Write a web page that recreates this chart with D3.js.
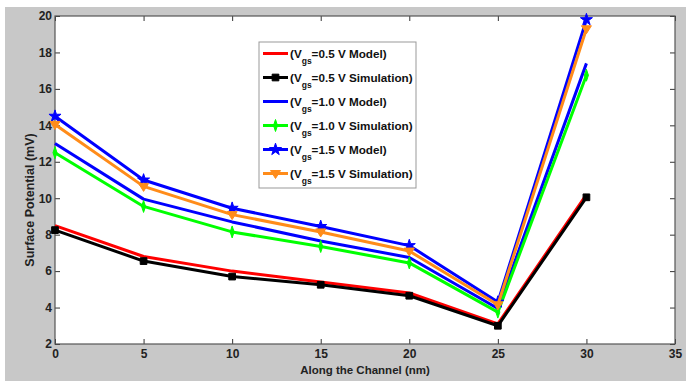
<!DOCTYPE html>
<html>
<head>
<meta charset="utf-8">
<script src="https://cdn.jsdelivr.net/npm/d3@7"></script>
<style>
  body { margin: 0; background: #fff; }
  svg { display: block; }
  .tick text { font-family: Arial, "Liberation Sans", sans-serif; font-weight: bold; font-size: 12px; fill: #222; }
  .axis-label { font-family: Arial, "Liberation Sans", sans-serif; font-weight: bold; fill: #222; }
  .legend text { font-family: Arial, "Liberation Sans", sans-serif; font-weight: bold; font-size: 11.7px; fill: #111; }
</style>
</head>
<body>
<div id="chart"></div>
<script>
// the data
var xValues = [0, 5, 10, 15, 20, 25, 30];
var vgs05Model = [8.5, 6.8, 6.0, 5.4, 4.8, 3.1, 10.2];
var vgs05Sim   = [8.25, 6.55, 5.7, 5.25, 4.65, 3.0, 10.05];
var vgs10Model = [13.0, 9.95, 8.7, 7.65, 6.75, 3.95, 17.4];
var vgs10Sim   = [12.5, 9.55, 8.15, 7.35, 6.45, 3.75, 16.75];
var vgs15Model = [14.5, 11.0, 9.45, 8.45, 7.4, 4.3, 19.8];
var vgs15Sim   = [14.05, 10.65, 9.1, 8.15, 7.1, 4.15, 19.3];
var xTicks = [0, 5, 10, 15, 20, 25, 30, 35];
var yTicks = [2, 4, 6, 8, 10, 12, 14, 16, 18, 20];

var series = [
  {v: "0.5", kind: "Model",      values: vgs05Model, color: "#ff0000", marker: null},
  {v: "0.5", kind: "Simulation", values: vgs05Sim,   color: "#000000", marker: "square"},
  {v: "1.0", kind: "Model",      values: vgs10Model, color: "#0000ff", marker: null},
  {v: "1.0", kind: "Simulation", values: vgs10Sim,   color: "#00ff00", marker: "diamond"},
  {v: "1.5", kind: "Model",      values: vgs15Model, color: "#0000ff", marker: "star"},
  {v: "1.5", kind: "Simulation", values: vgs15Sim,   color: "#ff8c1a", marker: "triangle"}
];

var W = 686, H = 381;
var margin = {top: 16, right: 11, bottom: 37, left: 55},
    width = W - margin.left - margin.right,
    height = H - margin.top - margin.bottom;

var svg = d3.select("#chart").append("svg")
    .attr("width", W)
    .attr("height", H);

// figure background (grey with thin white strip top/left)
svg.append("rect").attr("width", W).attr("height", H).attr("fill", "#fff");
svg.append("rect").attr("x", 5).attr("y", 7).attr("width", W - 5).attr("height", H - 7).attr("fill", "#c8c8c8");

var g = svg.append("g")
    .attr("transform", "translate(" + margin.left + "," + margin.top + ")");

var x = d3.scaleLinear().domain([0, 35]).range([0, width]);
var y = d3.scaleLinear().domain([2, 20]).range([height, 0]);

g.append("rect").attr("width", width).attr("height", height).attr("fill", "#fff");

// axes, MATLAB style inward ticks on all four sides
g.append("g")
    .attr("transform", "translate(0," + height + ")")
    .call(d3.axisBottom(x).tickValues(xTicks).tickSizeInner(-5).tickSizeOuter(0).tickPadding(5))
    .call(function(a) { a.select(".domain").remove(); });
g.append("g")
    .call(d3.axisLeft(y).tickValues(yTicks).tickSizeInner(-5).tickSizeOuter(0).tickPadding(3))
    .call(function(a) { a.select(".domain").remove(); });
g.append("g")
    .call(d3.axisTop(x).tickValues(xTicks).tickSizeInner(-5).tickSizeOuter(0).tickFormat(""))
    .call(function(a) { a.select(".domain").remove(); });
g.append("g")
    .attr("transform", "translate(" + width + ",0)")
    .call(d3.axisRight(y).tickValues(yTicks).tickSizeInner(-5).tickSizeOuter(0).tickFormat(""))
    .call(function(a) { a.select(".domain").remove(); });
g.selectAll(".tick line").attr("stroke", "#333");

g.append("rect").attr("width", width).attr("height", height)
    .attr("fill", "none").attr("stroke", "#555").attr("stroke-width", 1.2);

// axis labels
svg.append("text")
    .attr("class", "axis-label")
    .attr("font-size", "11.5px")
    .attr("x", margin.left + width / 2)
    .attr("y", 374)
    .attr("text-anchor", "middle")
    .text("Along the Channel (nm)");
svg.append("text")
    .attr("class", "axis-label")
    .attr("font-size", "12.5px")
    .attr("transform", "translate(34,200) rotate(-90)")
    .attr("text-anchor", "middle")
    .text("Surface Potential (mV)");

var line = d3.line()
    .x(function(d, i) { return x(xValues[i]); })
    .y(function(d) { return y(d); });

function markerPath(type) {
  if (type === "square") return d3.symbol(d3.symbolSquare, 45)();
  if (type === "diamond") return "M0,-6L2,0L0,6L-2,0Z";
  if (type === "star") return d3.symbol(d3.symbolStar, 45)();
  if (type === "triangle") return "M-5,-3L5,-3L0,5Z";
  return null;
}

series.forEach(function(s) {
  g.append("path")
      .datum(s.values)
      .attr("fill", "none")
      .attr("stroke", s.color)
      .attr("stroke-width", 3)
      .attr("stroke-linejoin", "round")
      .attr("d", line);
  if (s.marker) {
    g.selectAll(null)
        .data(s.values)
        .enter().append("path")
        .attr("transform", function(d, i) { return "translate(" + x(xValues[i]) + "," + y(d) + ")"; })
        .attr("d", markerPath(s.marker))
        .attr("fill", s.color)
        .attr("stroke", s.color)
        .attr("stroke-width", 1);
  }
});

// legend
var legend = svg.append("g")
    .attr("class", "legend")
    .attr("transform", "translate(259,42)");
legend.append("rect")
    .attr("width", 157).attr("height", 146)
    .attr("fill", "#fff").attr("stroke", "#999");

series.forEach(function(s, i) {
  var row = legend.append("g").attr("transform", "translate(0," + (11.5 + i * 24) + ")");
  row.append("line")
      .attr("x1", 4).attr("x2", 29)
      .attr("stroke", s.color).attr("stroke-width", 3);
  if (s.marker) {
    row.append("path")
        .attr("transform", "translate(16.5,0)")
        .attr("d", markerPath(s.marker))
        .attr("fill", s.color).attr("stroke", s.color);
  }
  var t = row.append("text").attr("x", 31).attr("y", 4);
  t.append("tspan").text("(V");
  t.append("tspan").attr("dy", 6).attr("font-size", "8.5px").text("gs");
  t.append("tspan").attr("dy", -6).text("=" + s.v + " V " + s.kind + ")");
});
</script>
</body>
</html>
